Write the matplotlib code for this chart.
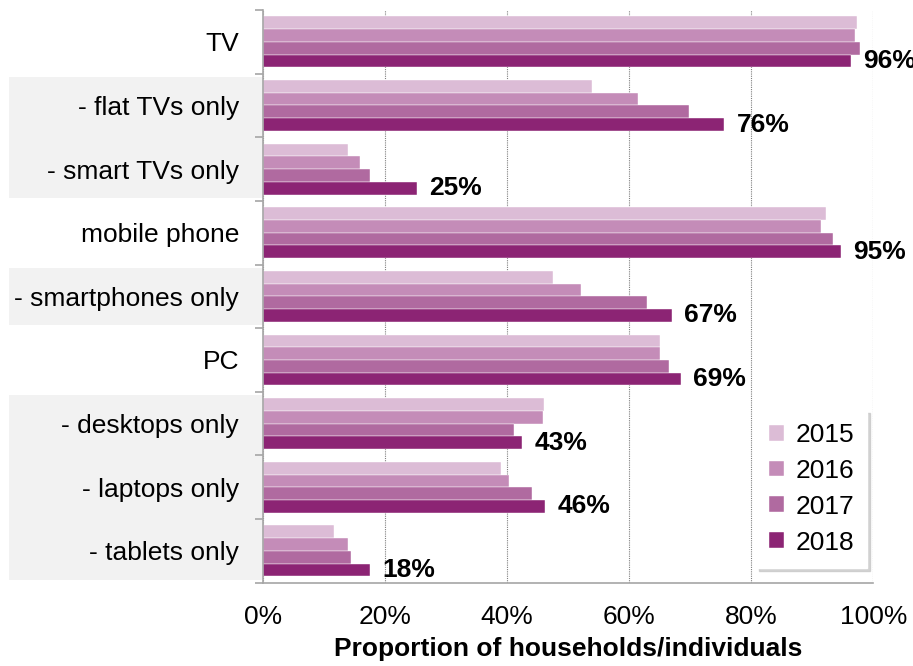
import numpy as np
import matplotlib
matplotlib.use("Agg")
import matplotlib.pyplot as plt
from matplotlib.patches import Rectangle
import matplotlib.transforms as mtransforms

plt.rcParams['font.family'] = ['Liberation Sans', 'DejaVu Sans']

# data
categories = ["TV", "- flat TVs only", "- smart TVs only", "mobile phone",
              "- smartphones only", "PC", "- desktops only", "- laptops only",
              "- tablets only"]
years = ["2015", "2016", "2017", "2018"]
v2015 = [97.3, 53.9, 13.9, 92.3, 47.5, 65.0, 46.1, 39.0, 11.7]
v2016 = [97.0, 61.5, 16.0, 91.5, 52.2, 65.1, 45.9, 40.3, 14.0]
v2017 = [97.8, 69.8, 17.6, 93.4, 62.9, 66.5, 41.1, 44.1, 14.5]
v2018 = [96.3, 75.6, 25.2, 94.7, 67.0, 68.5, 42.5, 46.3, 17.5]
labels_2018 = ["96%", "76%", "25%", "95%", "67%", "69%", "43%", "46%", "18%"]
# sub-item groups shaded on the left (first, last category index)
shaded_groups = [(1, 2), (4, 4), (6, 8)]

colors = ["#dcbcd6", "#c48cb8", "#b06aa0", "#8c2474"]
series = [v2015, v2016, v2017, v2018]
fs = 19

fig = plt.figure(figsize=(9.13, 6.66), dpi=100)
ax = fig.add_axes([0.2877, 0.1251, 0.6688, 0.8599])

y = np.arange(len(categories))
h = 0.2
for k, (vals, c, yr) in enumerate(zip(series, colors, years)):
    ax.barh(y + (k - 1.5) * h, vals, height=h, color=c, label=yr,
            edgecolor="white", linewidth=0.3, zorder=3)

for i, (v, lab) in enumerate(zip(v2018, labels_2018)):
    ax.annotate(lab, xy=(v, i + 1.5 * h), xytext=(9, 0), textcoords="offset points",
                ha="left", va="center", fontsize=fs, fontweight="bold",
                annotation_clip=False, zorder=5)

# shaded bands behind the sub-item labels
trans = mtransforms.blended_transform_factory(ax.transAxes, ax.transData)
for a, b in shaded_groups:
    r = Rectangle((-0.4155, a - 0.45), 0.4155, (b - a) + 0.9, transform=trans,
                  facecolor="#f2f2f2", edgecolor="none", clip_on=False, zorder=0)
    ax.add_patch(r)

ax.set_xlim(0, 100)
ax.set_ylim(len(categories) - 0.5, -0.5)
ax.set_xticks([0, 20, 40, 60, 80, 100])
ax.set_xticklabels([f"{t}%" for t in [0, 20, 40, 60, 80, 100]])
ax.set_yticks(y)
ax.set_yticklabels(categories)
ax.set_yticks(np.arange(-0.5, len(categories)), minor=True)

ax.tick_params(axis="y", which="major", length=0, pad=17, labelsize=fs)
ax.tick_params(axis="y", which="minor", length=6, width=1.2, color="#a6a6a6")
ax.tick_params(axis="x", length=0, pad=16, labelsize=fs)

for s in ["top", "right"]:
    ax.spines[s].set_visible(False)
for s in ["left", "bottom"]:
    ax.spines[s].set_color("#a6a6a6")
    ax.spines[s].set_linewidth(1.2)
ax.spines["left"].set_zorder(4)

ax.xaxis.grid(True, linestyle=(0, (1, 1)), color="#7f7f7f", linewidth=0.8)
for gl in ax.get_xgridlines():
    gl.set_zorder(4)

ax.set_xlabel("Proportion of households/individuals", fontsize=fs,
              fontweight="bold", labelpad=6)

leg = ax.legend(loc="lower right", bbox_to_anchor=(1.012, 0.003), fontsize=fs,
                frameon=True, shadow={"color": "#c8c8c8", "alpha": 0.8},
                fancybox=False, handlelength=0.55, handleheight=0.55,
                handletextpad=0.45, labelspacing=0.45, borderpad=0.5,
                borderaxespad=0.5)
leg.get_frame().set_edgecolor("white")
leg.get_frame().set_facecolor("white")
leg.set_zorder(6)

fig.savefig("out.png", dpi=100)
